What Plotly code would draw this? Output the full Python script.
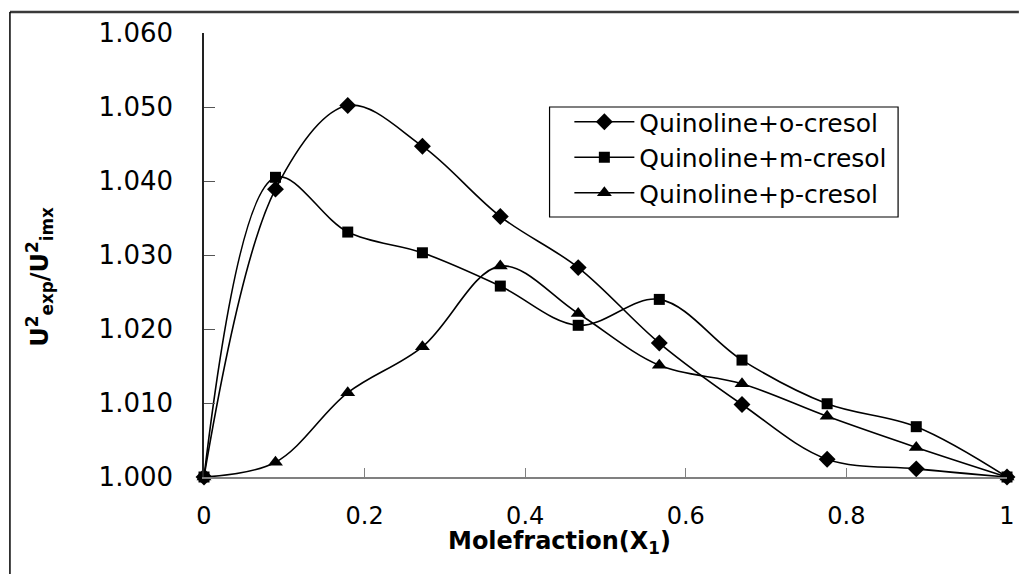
import plotly.graph_objects as go

x_frac = [0, 0.089, 0.179, 0.272, 0.369, 0.466, 0.567, 0.670, 0.776, 0.887, 1.0]
o_cresol = [1.0000, 1.0389, 1.0502, 1.0447, 1.0352, 1.0283, 1.0181, 1.0098, 1.0024, 1.0011, 1.0000]
m_cresol = [1.0000, 1.0405, 1.0331, 1.0303, 1.0258, 1.0205, 1.0240, 1.0158, 1.0099, 1.0068, 1.0000]
p_cresol = [1.0000, 1.0020, 1.0114, 1.0176, 1.0285, 1.0221, 1.0151, 1.0126, 1.0082, 1.0040, 1.0000]
series_names = ["Quinoline+o-cresol", "Quinoline+m-cresol", "Quinoline+p-cresol"]
y_ticks = [1.000, 1.010, 1.020, 1.030, 1.040, 1.050, 1.060]
y_ticklabels = ["1.000", "1.010", "1.020", "1.030", "1.040", "1.050", "1.060"]
x_ticks = [0, 0.2, 0.4, 0.6, 0.8, 1]
x_ticklabels = ["0", "0.2", "0.4", "0.6", "0.8", "1"]
x_title = "<b>Molefraction(X<sub>1</sub>)</b>"
y_title = "<b>U<sup>2</sup><sub>exp</sub>/U<sup>2</sup><sub>imx</sub></b>"

W, H = 1027, 574
L, R, T, B = 204, 12, 33, 97
pw, ph = W - L - R, H - T - B

FONT = "DejaVu Sans"
fig = go.Figure()
symbols = ["diamond", "square", "triangle-up"]
sizes = [13, 11, 13]
for name, ys, sym, sz in zip(series_names, [o_cresol, m_cresol, p_cresol], symbols, sizes):
    fig.add_trace(go.Scatter(
        x=x_frac, y=ys, name=name, mode="lines+markers",
        line=dict(color="black", width=1.6, shape="spline", smoothing=1.0),
        marker=dict(symbol=sym, size=sz, color="black"),
        cliponaxis=False,
    ))

def px_x(p):
    return (p - L) / pw

def px_y(p):
    return (H - B - p) / ph

fig.update_layout(
    width=W, height=H,
    margin=dict(l=L, r=R, t=T, b=B, pad=0),
    paper_bgcolor="white", plot_bgcolor="white",
    font=dict(family=FONT, color="black"),
    showlegend=True,
    legend=dict(
        x=px_x(573), y=px_y(99), xanchor="left", yanchor="top",
        borderwidth=0, bgcolor="rgba(0,0,0,0)",
        font=dict(family=FONT, size=25, color="black"),
        itemwidth=60, tracegroupgap=0,
    ),
    xaxis=dict(
        range=[0, 1], tickmode="array", tickvals=x_ticks, ticktext=x_ticklabels,
        showgrid=False, zeroline=False, showline=True, linecolor="#808080", linewidth=1.5,
        ticks="inside", ticklen=9, tickcolor="#808080", tickwidth=1.2,
        tickfont=dict(family=FONT, size=24, color="black"), ticklabelstandoff=16,
    ),
    yaxis=dict(
        range=[1.0, 1.06], tickmode="array", tickvals=y_ticks, ticktext=y_ticklabels,
        showgrid=False, zeroline=False, showline=True, linecolor="#222222", linewidth=1.5,
        ticks="inside", ticklen=11, tickcolor="#555555", tickwidth=1.2,
        tickfont=dict(family=FONT, size=26, color="black"), ticklabelstandoff=24,
    ),
    annotations=[
        dict(text=x_title, xref="paper", yref="paper", x=px_x(563), y=px_y(542),
             xanchor="center", yanchor="middle", showarrow=False,
             font=dict(family=FONT, size=24, color="black")),
        dict(text=y_title, xref="paper", yref="paper", x=px_x(37), y=px_y(277),
             xanchor="center", yanchor="middle", showarrow=False, textangle=-90,
             font=dict(family=FONT, size=24, color="black")),
    ],
    shapes=[
        dict(type="line", xref="paper", yref="paper", x0=px_x(8), x1=px_x(W), y0=px_y(12), y1=px_y(12),
             line=dict(color="#3a3a3a", width=2.5)),
        dict(type="line", xref="paper", yref="paper", x0=px_x(8), x1=px_x(8), y0=px_y(12), y1=px_y(H),
             line=dict(color="black", width=1.5)),
        dict(type="rect", xref="paper", yref="paper", x0=px_x(553), x1=px_x(905), y0=px_y(107), y1=px_y(217),
             line=dict(color="black", width=1.2), fillcolor="rgba(0,0,0,0)", layer="above"),
    ],
)

fig.write_html("out.html", config={"displayModeBar": False},
               post_script="document.body.style.margin='0';document.body.style.overflow='hidden';")
